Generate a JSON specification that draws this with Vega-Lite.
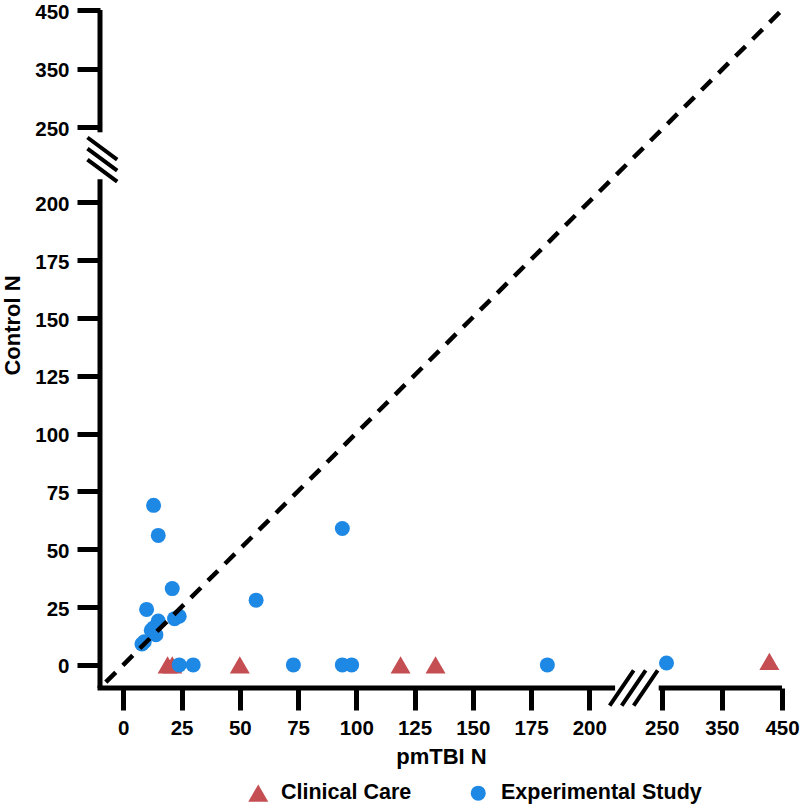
{
  "$schema": "https://vega.github.io/schema/vega-lite/v6.json",
  "width": 682,
  "height": 678,
  "autosize": {"type": "none"},
  "padding": {"left": 100, "top": 10, "right": 18, "bottom": 119},
  "background": "white",
  "config": {
    "view": {"stroke": null},
    "axis": {
      "domain": false,
      "grid": false,
      "tickColor": "black",
      "tickWidth": 5,
      "labelFont": "Liberation Sans",
      "labelFontWeight": "bold",
      "labelFontSize": 20.5,
      "labelColor": "black",
      "labelFlush": false,
      "labelOverlap": false,
      "titleFont": "Liberation Sans",
      "titleFontWeight": "bold",
      "titleFontSize": 22,
      "titleColor": "black"
    },
    "legend": {
      "labelFont": "Liberation Sans",
      "labelFontWeight": "bold",
      "labelFontSize": 21.5,
      "labelColor": "black",
      "labelLimit": 400
    }
  },
  "layer": [
    {
      "data": {
        "values": [
          {"group": "Clinical Care", "pmTBI": 19, "control": 0},
          {"group": "Clinical Care", "pmTBI": 21, "control": 0},
          {"group": "Clinical Care", "pmTBI": 50, "control": 0},
          {"group": "Clinical Care", "pmTBI": 119, "control": 0},
          {"group": "Clinical Care", "pmTBI": 134, "control": 0},
          {"group": "Clinical Care", "pmTBI": 429, "control": 1.5},
          {"group": "Experimental Study", "pmTBI": 13, "control": 69},
          {"group": "Experimental Study", "pmTBI": 15, "control": 56},
          {"group": "Experimental Study", "pmTBI": 21, "control": 33},
          {"group": "Experimental Study", "pmTBI": 10, "control": 24},
          {"group": "Experimental Study", "pmTBI": 24, "control": 21},
          {"group": "Experimental Study", "pmTBI": 22, "control": 20},
          {"group": "Experimental Study", "pmTBI": 15, "control": 19},
          {"group": "Experimental Study", "pmTBI": 13, "control": 16},
          {"group": "Experimental Study", "pmTBI": 12, "control": 15},
          {"group": "Experimental Study", "pmTBI": 14, "control": 13},
          {"group": "Experimental Study", "pmTBI": 9, "control": 10},
          {"group": "Experimental Study", "pmTBI": 8, "control": 9},
          {"group": "Experimental Study", "pmTBI": 24, "control": 0},
          {"group": "Experimental Study", "pmTBI": 30, "control": 0},
          {"group": "Experimental Study", "pmTBI": 57, "control": 28},
          {"group": "Experimental Study", "pmTBI": 94, "control": 59},
          {"group": "Experimental Study", "pmTBI": 73, "control": 0},
          {"group": "Experimental Study", "pmTBI": 94, "control": 0},
          {"group": "Experimental Study", "pmTBI": 98, "control": 0},
          {"group": "Experimental Study", "pmTBI": 182, "control": 0},
          {"group": "Experimental Study", "pmTBI": 258, "control": 0.8}
        ]
      },
      "mark": {"type": "point", "filled": true, "opacity": 1, "strokeWidth": 0},
      "encoding": {
        "x": {
          "field": "pmTBI", "type": "quantitative",
          "scale": {"domain": [-10, 210, 245, 450], "range": [0, 512.6, 558.7, 682], "nice": false, "zero": false},
          "axis": {
            "title": "pmTBI N",
            "values": [0, 25, 50, 75, 100, 125, 150, 175, 200, 250, 350, 450],
            "tickSize": 22,
            "labelPadding": 8,
            "titleY": 75,
            "titleBaseline": "alphabetic"
          }
        },
        "y": {
          "field": "control", "type": "quantitative",
          "scale": {"domain": [-10, 210, 241, 450], "range": [678, 169.3, 122.3, 0], "nice": false, "zero": false},
          "axis": {
            "title": "Control N",
            "values": [0, 25, 50, 75, 100, 125, 150, 175, 200, 250, 350, 450],
            "tickSize": 23,
            "labelPadding": 8,
            "labelOffset": 2,
            "titleX": -88,
            "titleY": 315,
            "titleAngle": -90,
            "titleBaseline": "middle",
            "titleAlign": "center"
          }
        },
        "color": {
          "field": "group", "type": "nominal",
          "scale": {"domain": ["Clinical Care", "Experimental Study"], "range": ["#C44E52", "#1E88E5"]},
          "legend": {
            "title": null,
            "orient": "none",
            "direction": "horizontal",
            "columns": 2,
            "legendX": 147.5,
            "legendY": 772,
            "symbolSize": 600,
            "symbolStrokeWidth": 0,
            "labelOffset": 12,
            "columnPadding": 56,
            "padding": 0
          }
        },
        "shape": {
          "field": "group", "type": "nominal",
          "scale": {"domain": ["Clinical Care", "Experimental Study"], "range": ["triangle-up", "circle"]}
        },
        "size": {
          "field": "group", "type": "ordinal",
          "scale": {"domain": ["Clinical Care", "Experimental Study"], "range": [400, 225]},
          "legend": null
        }
      }
    },
    {
      "data": {"values": [{}]},
      "mark": {"type": "rule", "color": "black", "strokeWidth": 4.5, "strokeDash": [14, 10]},
      "encoding": {
        "x": {"datum": -7.5, "type": "quantitative"},
        "y": {"datum": -7.5, "type": "quantitative"},
        "x2": {"datum": 450},
        "y2": {"datum": 450}
      }
    },
    {
      "data": {"values": [{}]},
      "mark": {"type": "rule", "color": "black", "strokeWidth": 5, "strokeCap": "square"},
      "encoding": {
        "x": {"datum": -10, "type": "quantitative"},
        "x2": {"datum": 210},
        "y": {"datum": -10, "type": "quantitative"}
      }
    },
    {
      "data": {"values": [{}]},
      "mark": {"type": "rule", "color": "black", "strokeWidth": 5},
      "encoding": {
        "x": {"datum": 245, "type": "quantitative"},
        "x2": {"datum": 450},
        "y": {"datum": -10, "type": "quantitative"}
      }
    },
    {
      "data": {"values": [{}]},
      "mark": {"type": "rule", "color": "black", "strokeWidth": 5},
      "encoding": {
        "x": {"datum": -10, "type": "quantitative"},
        "y": {"datum": -10, "type": "quantitative"},
        "y2": {"datum": 210}
      }
    },
    {
      "data": {"values": [{}]},
      "mark": {"type": "rule", "color": "black", "strokeWidth": 5},
      "encoding": {
        "x": {"datum": -10, "type": "quantitative"},
        "y": {"datum": 241, "type": "quantitative"},
        "y2": {"datum": 450}
      }
    },
    {
      "data": {"values": [{}]},
      "mark": {"type": "point", "shape": "M-1,0.73L0,-0.73M-0.5,0.73L0.5,-0.73M0,0.73L1,-0.73", "size": 2304, "filled": false, "stroke": "black", "strokeWidth": 4, "opacity": 1},
      "encoding": {
        "x": {"datum": 226, "type": "quantitative"},
        "y": {"datum": -10, "type": "quantitative"}
      }
    },
    {
      "data": {"values": [{}]},
      "mark": {"type": "point", "shape": "M-0.62,-0.92L0.62,0M-0.62,-0.46L0.62,0.46M-0.62,0L0.62,0.92", "size": 2304, "filled": false, "stroke": "black", "strokeWidth": 4, "opacity": 1},
      "encoding": {
        "x": {"datum": -9, "type": "quantitative"},
        "y": {"datum": 223, "type": "quantitative"}
      }
    }
  ]
}
